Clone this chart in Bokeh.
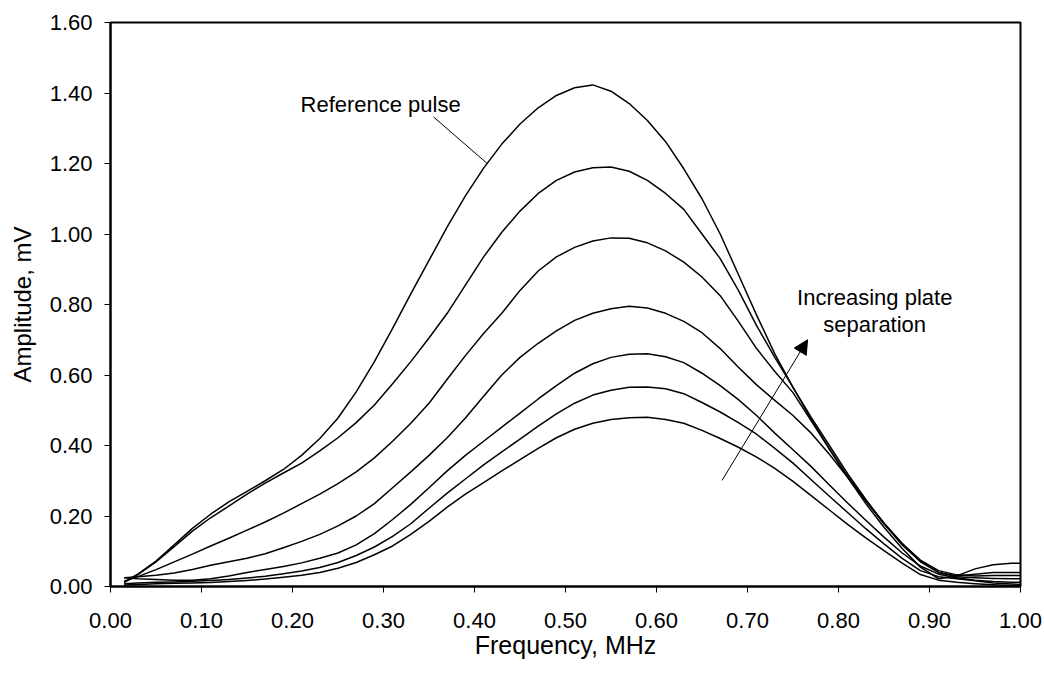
from bokeh.plotting import figure
from bokeh.models import Range1d, FixedTicker, NumeralTickFormatter, Label, Arrow, NormalHead
from bokeh.embed import file_html
from bokeh.resources import INLINE

# ---- data ----
freq = [0.015, 0.03, 0.05, 0.07, 0.09, 0.11, 0.13, 0.15, 0.17, 0.19,
        0.21, 0.23, 0.25, 0.27, 0.29, 0.31, 0.33, 0.35, 0.37, 0.39,
        0.41, 0.43, 0.45, 0.47, 0.49, 0.51, 0.53, 0.55, 0.57, 0.59,
        0.61, 0.63, 0.65, 0.67, 0.69, 0.71, 0.73, 0.75, 0.77, 0.79,
        0.81, 0.83, 0.85, 0.87, 0.89, 0.91, 0.93, 0.95, 0.97, 0.99, 1.00]

reference_pulse = [0.012, 0.035, 0.072, 0.118, 0.165, 0.205, 0.24, 0.27, 0.30, 0.332,
                   0.372, 0.42, 0.478, 0.552, 0.638, 0.732, 0.83, 0.925, 1.02, 1.108,
                   1.187, 1.255, 1.312, 1.358, 1.393, 1.415, 1.423, 1.405, 1.37, 1.322,
                   1.262, 1.185, 1.10, 1.0, 0.885, 0.77, 0.66, 0.565, 0.475, 0.39,
                   0.31, 0.235, 0.168, 0.108, 0.055, 0.022, 0.03, 0.05, 0.062, 0.066, 0.066]

sep_1 = [0.012, 0.034, 0.07, 0.113, 0.157, 0.195, 0.228, 0.262, 0.293, 0.322,
         0.35, 0.385, 0.422, 0.465, 0.515, 0.575, 0.638, 0.705, 0.775, 0.855,
         0.935, 1.005, 1.065, 1.115, 1.152, 1.176, 1.188, 1.19, 1.178, 1.152,
         1.115, 1.07, 1.0, 0.93, 0.84, 0.74, 0.65, 0.565, 0.48, 0.40,
         0.32, 0.247, 0.178, 0.118, 0.07, 0.04, 0.03, 0.035, 0.04, 0.04, 0.04]

sep_2 = [0.015, 0.028, 0.048, 0.07, 0.092, 0.115, 0.137, 0.16, 0.183, 0.208,
         0.235, 0.262, 0.292, 0.325, 0.365, 0.412, 0.463, 0.52, 0.588, 0.655,
         0.718, 0.775, 0.84, 0.895, 0.935, 0.962, 0.98, 0.989, 0.988, 0.975,
         0.952, 0.92, 0.878, 0.825, 0.752, 0.675, 0.61, 0.55, 0.47, 0.39,
         0.313, 0.242, 0.178, 0.122, 0.075, 0.045, 0.033, 0.03, 0.031, 0.031, 0.031]

sep_3 = [0.025, 0.028, 0.032, 0.038, 0.048, 0.06, 0.07, 0.08, 0.093, 0.11,
         0.128, 0.148, 0.172, 0.20, 0.235, 0.28, 0.325, 0.372, 0.422, 0.478,
         0.54, 0.60, 0.65, 0.69, 0.725, 0.755, 0.775, 0.788, 0.795, 0.79,
         0.775, 0.752, 0.72, 0.675, 0.622, 0.572, 0.528, 0.485, 0.435, 0.375,
         0.31, 0.245, 0.18, 0.122, 0.072, 0.04, 0.028, 0.025, 0.023, 0.022, 0.022]

sep_4 = [0.025, 0.022, 0.02, 0.018, 0.018, 0.022, 0.03, 0.04, 0.048, 0.057,
         0.067, 0.08, 0.095, 0.118, 0.15, 0.19, 0.233, 0.28, 0.328, 0.372,
         0.412, 0.452, 0.492, 0.532, 0.57, 0.605, 0.632, 0.65, 0.659, 0.66,
         0.652, 0.635, 0.605, 0.57, 0.53, 0.485, 0.435, 0.388, 0.34, 0.288,
         0.237, 0.188, 0.14, 0.095, 0.058, 0.035, 0.025, 0.018, 0.014, 0.012, 0.012]

sep_5 = [0.008, 0.01, 0.012, 0.013, 0.015, 0.017, 0.02, 0.024, 0.029, 0.036,
         0.044, 0.054, 0.068, 0.088, 0.112, 0.142, 0.178, 0.222, 0.265, 0.305,
         0.345, 0.382, 0.418, 0.455, 0.49, 0.52, 0.543, 0.557, 0.565, 0.566,
         0.561, 0.547, 0.522, 0.495, 0.465, 0.432, 0.392, 0.35, 0.303, 0.256,
         0.21, 0.164, 0.121, 0.08, 0.045, 0.028, 0.022, 0.016, 0.01, 0.007, 0.006]

sep_6 = [0.004, 0.006, 0.008, 0.009, 0.01, 0.011, 0.014, 0.017, 0.021, 0.026,
         0.032, 0.04, 0.052, 0.068, 0.09, 0.115, 0.148, 0.185, 0.225, 0.262,
         0.295, 0.328, 0.36, 0.392, 0.422, 0.446, 0.463, 0.474, 0.479, 0.48,
         0.474, 0.463, 0.443, 0.42, 0.395, 0.367, 0.335, 0.298, 0.258, 0.217,
         0.176, 0.138, 0.102, 0.066, 0.034, 0.018, 0.012, 0.008, 0.005, 0.003, 0.003]

series = [reference_pulse, sep_1, sep_2, sep_3, sep_4, sep_5, sep_6]

x_ticks = [0.0, 0.1, 0.2, 0.3, 0.4, 0.5, 0.6, 0.7, 0.8, 0.9, 1.0]
y_ticks = [0.0, 0.2, 0.4, 0.6, 0.8, 1.0, 1.2, 1.4, 1.6]

# annotation anchors (data units)
ref_label_pos = (0.2088, 1.367)
ref_leader_x = [0.355, 0.414]
ref_leader_y = [1.332, 1.200]
arrow_start = (0.672, 0.301)
arrow_end = (0.766, 0.700)
sep_label_pos = (0.8398, 0.821, 0.744)

FONT = "Liberation Sans"

p = figure(width=1044, height=673, x_range=Range1d(0, 1.0), y_range=Range1d(0, 1.6),
           output_backend="svg", toolbar_location=None,
           min_border_left=110, min_border_right=24, min_border_top=22, min_border_bottom=87)

p.background_fill_color = "white"
p.border_fill_color = "white"
p.outline_line_color = "black"
p.outline_line_width = 2
p.xgrid.visible = False
p.ygrid.visible = False

for ys in series:
    p.line(freq, ys, line_color="black", line_width=1.5, line_join="round")

# axes
for ax in (p.xaxis[0], p.yaxis[0]):
    ax.axis_line_color = "black"
    ax.axis_line_width = 2
    ax.major_tick_line_color = "black"
    ax.major_tick_line_width = 1
    ax.major_tick_in = 0
    ax.major_tick_out = 6
    ax.minor_tick_line_color = None
    ax.major_label_text_font = FONT
    ax.major_label_text_font_size = "22px"
    ax.major_label_text_color = "black"
    ax.axis_label_text_font = FONT
    ax.axis_label_text_font_style = "normal"
    ax.axis_label_text_color = "black"
    ax.formatter = NumeralTickFormatter(format="0.00")

p.xaxis.ticker = FixedTicker(ticks=x_ticks)
p.yaxis.ticker = FixedTicker(ticks=y_ticks)
p.xaxis.axis_label = "Frequency, MHz"
p.yaxis.axis_label = "Amplitude, mV"
p.xaxis.axis_label_text_font_size = "25px"
p.yaxis.axis_label_text_font_size = "24px"
p.xaxis.major_label_standoff = 20
p.yaxis.major_label_standoff = 12
p.xaxis.axis_label_standoff = 0
p.yaxis.axis_label_standoff = 11

# annotations
p.add_layout(Label(x=ref_label_pos[0], y=ref_label_pos[1], text="Reference pulse",
                   text_font=FONT, text_font_size="22px", text_color="black",
                   text_baseline="alphabetic", text_align="left"))
p.line(ref_leader_x, ref_leader_y, line_color="black", line_width=1)

p.add_layout(Arrow(end=NormalHead(size=14, fill_color="black", line_color="black"),
                   x_start=arrow_start[0], y_start=arrow_start[1],
                   x_end=arrow_end[0], y_end=arrow_end[1],
                   line_color="black", line_width=1))
p.add_layout(Label(x=sep_label_pos[0], y=sep_label_pos[1], text="Increasing plate",
                   text_font=FONT, text_font_size="22px", text_color="black",
                   text_baseline="alphabetic", text_align="center"))
p.add_layout(Label(x=sep_label_pos[0], y=sep_label_pos[2], text="separation",
                   text_font=FONT, text_font_size="22px", text_color="black",
                   text_baseline="alphabetic", text_align="center"))

open("out.html", "w").write(file_html(p, INLINE))
